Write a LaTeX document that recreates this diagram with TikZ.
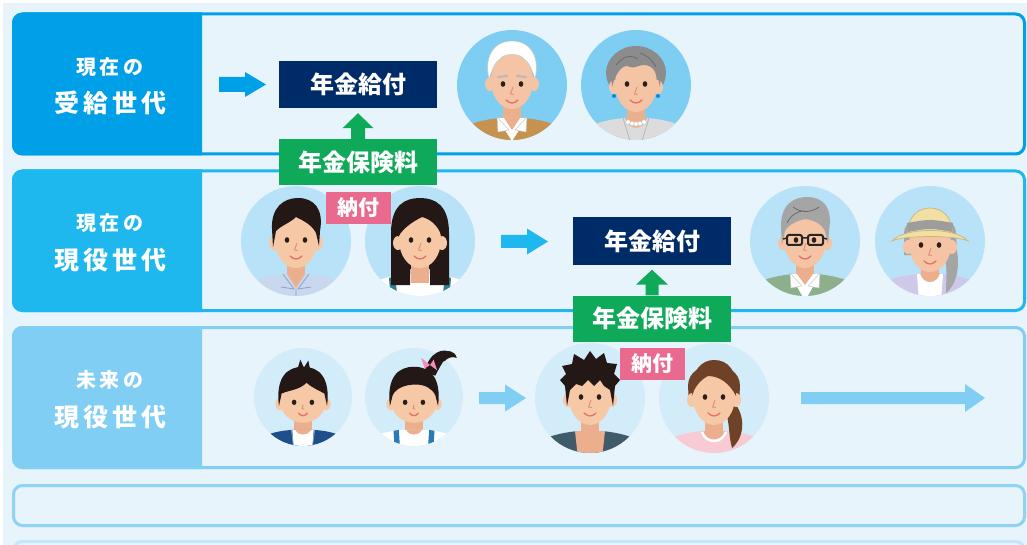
\documentclass[tikz,border=0pt]{standalone}
\usepackage{fontspec}
\setmainfont{Noto Sans CJK JP}
\newfontfamily\labfont{Noto Sans CJK JP}[LetterSpace=16]
\usetikzlibrary{calc}

% palette
\definecolor{pagebg}{HTML}{E7F4FC}
\definecolor{rowA}{HTML}{00A0E9}
\definecolor{rowB}{HTML}{1EB8EE}
\definecolor{rowC}{HTML}{80CEF3}
\definecolor{rowD}{HTML}{8ED3F5}
\definecolor{rowE}{HTML}{C4E7F9}
\definecolor{navyc}{HTML}{002B69}
\definecolor{greenc}{HTML}{0FA95A}
\definecolor{pinkc}{HTML}{E96A8E}
\definecolor{circA}{HTML}{7ECDF3}
\definecolor{circB}{HTML}{B8E2F8}
\definecolor{circC}{HTML}{D3ECF9}
\definecolor{skin}{HTML}{F7C8A6}
\definecolor{skinold}{HTML}{F4C4A5}
\definecolor{neckc}{HTML}{EBAF8E}
\definecolor{eyec}{HTML}{2A1E1A}
\definecolor{mouthc}{HTML}{E56F62}
\definecolor{nosec}{HTML}{DE8E78}
\definecolor{hairblack}{HTML}{231815}
\definecolor{hairgrey}{HTML}{8C8C8C}
\definecolor{hairgreydk}{HTML}{6A6A6A}
\definecolor{hairgreylt}{HTML}{A5A5A5}
\definecolor{hairbrown}{HTML}{6F4126}
\definecolor{sweater}{HTML}{C6934F}
\definecolor{jacketgrey}{HTML}{DCDCDC}
\definecolor{shirtblue}{HTML}{C9D7EF}
\definecolor{collarline}{HTML}{8EA2C7}
\definecolor{strapteal}{HTML}{2E7D95}
\definecolor{vestgreen}{HTML}{8DAF8B}
\definecolor{lavender}{HTML}{CEC8EA}
\definecolor{hatbeige}{HTML}{F2DFA4}
\definecolor{hatline}{HTML}{C9B57A}
\definecolor{bandgrey}{HTML}{9D9D9D}
\definecolor{navyjacket}{HTML}{1F4E8D}
\definecolor{strapblue}{HTML}{2B7AB6}
\definecolor{slate}{HTML}{3F5B69}
\definecolor{pinktop}{HTML}{F8CAD3}
\definecolor{ribbon}{HTML}{F28DBA}

% --- avatar building blocks (units: pt, y downwards, circle radius 55) ---
\newcommand\AvNeck[1]{\fill[#1] (-9,14) rectangle (9,42);}
\newcommand\AvTorso[1]{\fill[#1] (-62,75) -- (-58,50) .. controls (-50,40) and (-32,35) .. (-12,33) -- (12,33) .. controls (32,35) and (50,40) .. (58,50) -- (62,75) -- cycle;}
\newcommand\AvHead[2]{%
  \begin{scope}[shift={(0,#2)}]
    \fill[#1] (-22,2) ellipse (5 and 7);
    \fill[#1] (22,2) ellipse (5 and 7);
    \fill[#1] (0,-1) ellipse (21 and 28);
  \end{scope}}
\newcommand\AvFeat[1]{%
  \begin{scope}[shift={(0,#1)}]
    \fill[eyec] (-9,-1) ellipse (2.3 and 2.8);
    \fill[eyec] (9,-1) ellipse (2.3 and 2.8);
    \draw[nosec, line width=0.9pt, line cap=round, line join=round] (1,2) -- (-1.5,9) -- (1.5,9.5);
    \draw[mouthc, line width=1.3pt, line cap=round] (-6,15) .. controls (-2,19) and (2,19) .. (6,15);
  \end{scope}}
\newcommand\KidTorso[1]{\fill[#1] (-62,75) -- (-58,55) .. controls (-50,44) and (-32,38) .. (-12,37) -- (12,37) .. controls (32,38) and (50,44) .. (58,55) -- (62,75) -- cycle;}
\newcommand\KidHead[1]{%
  \fill[#1] (-26,8) ellipse (5 and 7);
  \fill[#1] (26,8) ellipse (5 and 7);
  \fill[#1] (0,4) ellipse (26 and 25);}
\newcommand\KidFeat{%
  \fill[eyec] (-10,6) ellipse (2.6 and 3);
  \fill[eyec] (10,6) ellipse (2.6 and 3);
  \draw[nosec, line width=0.9pt, line cap=round] (0,9) -- (-1,13) -- (1,13.5);
  \draw[mouthc, line width=1.3pt, line cap=round] (-5,18) .. controls (-2,22) and (2,22) .. (5,18);}

% --- block arrows ---
\newcommand\harrow[6]{% from, to, shaft half, head half, head length, colour
  \fill[#6] let \p1=(#1), \p2=(#2) in
    (\x1,\y1+#3pt) -- (\x2-#5pt,\y1+#3pt) -- (\x2-#5pt,\y1+#4pt) -- (\x2,\y1)
    -- (\x2-#5pt,\y1-#4pt) -- (\x2-#5pt,\y1-#3pt) -- (\x1,\y1-#3pt) -- cycle;}
\newcommand\varrow[6]{% from (bottom), to (tip), shaft half, head half, head length, colour
  \fill[#6] let \p1=(#1), \p2=(#2) in
    (\x1-#3pt,\y1) -- (\x1-#3pt,\y2-#5pt) -- (\x1-#4pt,\y2-#5pt) -- (\x1,\y2)
    -- (\x1+#4pt,\y2-#5pt) -- (\x1+#3pt,\y2-#5pt) -- (\x1+#3pt,\y1) -- cycle;}

\newcommand\genrow[3]{% top, bottom, colour
  \draw[#3, line width=3pt, fill=pagebg, rounded corners=9pt] (13.5,#1) rectangle (1024.5,#2);
  \begin{scope}
    \clip (0,0) rectangle (202,545);
    \fill[#3, rounded corners=10.5pt] (12,#1-1.5) rectangle (240,#2+1.5);
  \end{scope}}

\tikzset{
  avatar/.style={circle, inner sep=0pt, minimum size=110pt},
  kidavatar/.style={circle, inner sep=0pt, minimum size=98pt},
  lablarge/.style={text=white, inner sep=0pt, font=\labfont\bfseries\fontsize{25}{27}\selectfont},
  labsmall/.style={text=white, inner sep=0pt, font=\labfont\bfseries\fontsize{20}{22}\selectfont},
  givebox/.style={fill=navyc, text=white, minimum width=158pt, minimum height=47pt, inner sep=0pt, font=\bfseries\fontsize{24}{26}\selectfont},
  paybox/.style={fill=greenc, text=white, minimum width=158pt, minimum height=46pt, inner sep=0pt, font=\bfseries\fontsize{24}{26}\selectfont},
  tagbox/.style={fill=pinkc, text=white, minimum width=65pt, minimum height=32pt, inner sep=0pt, font=\bfseries\fontsize{21}{24}\selectfont},
  % ---------- people ----------
  pics/oldman/.style={code={
    \begin{scope}
      \clip (0,0) circle (55);
      \AvNeck{neckc}
      \AvTorso{sweater}
      \fill[white] (-15,33) -- (0,56) -- (15,33) -- cycle;
      \fill[neckc] (-8,33) -- (0,45) -- (8,33) -- cycle;
      \fill[white, draw=gray!45, line width=0.5pt] (-15,32) -- (-3,45) -- (-14,47) -- cycle;
      \fill[white, draw=gray!45, line width=0.5pt] (15,32) -- (3,45) -- (14,47) -- cycle;
      \AvHead{skinold}{-3}
      \fill[white, draw=gray!45, line width=0.6pt] (-23,-6) .. controls (-28,-26) and (-20,-44) .. (0,-44) .. controls (20,-44) and (28,-26) .. (23,-6) .. controls (20,-14) and (18,-22) .. (12,-26) .. controls (8,-32) and (-8,-32) .. (-12,-26) .. controls (-18,-22) and (-20,-14) .. (-23,-6) -- cycle;
      \draw[gray!55, line width=2.2pt, line cap=round] (-14,-8) -- (-5,-9) (5,-9) -- (14,-8);
      \AvFeat{0}
    \end{scope}}},
  pics/oldwoman/.style={code={
    \begin{scope}
      \clip (0,0) circle (55);
      \fill[hairgrey] (0,-12) ellipse (30 and 27);
      \AvNeck{neckc}
      \AvTorso{jacketgrey}
      \fill[neckc] (-11,33) .. controls (-8,46) and (8,46) .. (11,33) -- cycle;
      \draw[gray!60, line width=0.7pt] (-13,33) -- (-6,56) (13,33) -- (6,56);
      \foreach \t in {-8,-4,0,4,8} \fill[white, draw=gray!40, line width=0.3pt] (\t,{39-0.03*\t*\t}) circle (2.2);
      \AvHead{skinold}{0}
      \fill[hairgrey] (-24,2) .. controls (-27,-28) and (-14,-38) .. (0,-38) .. controls (14,-38) and (27,-28) .. (24,2) .. controls (22,-10) and (18,-20) .. (8,-20) .. controls (2,-20) and (-2,-16) .. (-6,-18) .. controls (-12,-22) and (-20,-14) .. (-24,2) -- cycle;
      \draw[hairgreydk, line width=0.8pt] (-20,-20) .. controls (-12,-30) and (-4,-30) .. (2,-26) (4,-32) .. controls (10,-30) and (16,-26) .. (20,-18);
      \fill[cyan!70!blue] (-22,11) circle (2) (22,11) circle (2);
      \AvFeat{0}
    \end{scope}}},
  pics/man/.style={code={
    \begin{scope}
      \clip (0,0) circle (55);
      \AvNeck{neckc}
      \AvTorso{shirtblue}
      \fill[neckc] (-9,33) -- (0,47) -- (9,33) -- cycle;
      \draw[collarline, line width=0.8pt, line join=round] (-13,33) -- (-2,48) -- (-15,46) (13,33) -- (2,48) -- (15,46) (0,48) -- (0,60);
      \AvHead{skin}{0}
      \fill[hairblack] (-23,6) -- (-24,-12) .. controls (-25,-34) and (-12,-43) .. (2,-43) .. controls (18,-43) and (28,-32) .. (24,-10) -- (23,5) -- (20,-8) .. controls (16,-16) and (8,-20) .. (0,-24) .. controls (-6,-18) and (-14,-16) .. (-20,-10) -- cycle;
      \AvFeat{0}
    \end{scope}}},
  pics/woman/.style={code={
    \begin{scope}
      \clip (0,0) circle (55);
      \AvTorso{white}
      \fill[strapteal] (-31,37) -- (-25,35) -- (-22,60) -- (-29,60) -- cycle;
      \fill[strapteal] (31,37) -- (25,35) -- (22,60) -- (29,60) -- cycle;
      \fill[hairblack] (-29,44) -- (-29,-8) .. controls (-29,-36) and (-15,-43) .. (0,-43) .. controls (15,-43) and (29,-36) .. (29,-8) -- (29,44) -- (10,44) -- (10,28) -- (-10,28) -- (-10,44) -- cycle;
      \AvNeck{neckc}
      \fill[neckc] (-9,32) .. controls (-6,42) and (6,42) .. (9,32) -- cycle;
      \AvHead{skin}{0}
      \fill[hairblack] (-22,-4) .. controls (-23,-28) and (-12,-36) .. (0,-36) .. controls (12,-36) and (23,-28) .. (22,-4) .. controls (18,-16) and (10,-22) .. (2,-24) .. controls (-6,-20) and (-16,-14) .. (-22,-4) -- cycle;
      \AvFeat{0}
    \end{scope}}},
  pics/greyman/.style={code={
    \begin{scope}
      \clip (0,0) circle (55);
      \AvNeck{neckc}
      \AvTorso{vestgreen}
      \fill[white] (-15,33) -- (0,60) -- (15,33) -- cycle;
      \fill[neckc] (-8,33) -- (0,44) -- (8,33) -- cycle;
      \fill[white, draw=gray!45, line width=0.5pt] (-15,32) -- (-3,45) -- (-14,47) -- cycle;
      \fill[white, draw=gray!45, line width=0.5pt] (15,32) -- (3,45) -- (14,47) -- cycle;
      \AvHead{skinold}{0}
      \fill[hairgreylt] (-23,4) -- (-24,-12) .. controls (-25,-36) and (-12,-44) .. (2,-44) .. controls (18,-44) and (28,-34) .. (24,-10) -- (23,3) -- (20,-10) .. controls (16,-18) and (8,-21) .. (0,-22) .. controls (-8,-20) and (-16,-17) .. (-20,-10) -- cycle;
      \draw[hairgreydk, line width=0.8pt] (-12,-34) .. controls (-4,-28) and (6,-28) .. (14,-34) (-18,-18) .. controls (-14,-26) and (-8,-30) .. (0,-30);
      \draw[black!85, line width=2pt, rounded corners=2pt] (-18,-6) rectangle (-3,4) (3,-6) rectangle (18,4);
      \draw[black!85, line width=1.5pt] (-3,-3) -- (3,-3) (-18,-3) -- (-22,-2) (18,-3) -- (22,-2);
      \AvFeat{0}
    \end{scope}}},
  pics/hatwoman/.style={code={
    \begin{scope}
      \clip (0,0) circle (55);
      \AvNeck{neckc}
      \AvTorso{lavender}
      \fill[white] (-13,33) -- (13,33) -- (11,60) -- (-11,60) -- cycle;
      \fill[neckc] (-10,32) .. controls (-7,44) and (7,44) .. (10,32) -- cycle;
      \fill[hairgreylt] (-26,14) -- (-26,-8) .. controls (-26,-30) and (26,-30) .. (26,-8) -- (27,10) .. controls (30,28) and (26,44) .. (16,52) .. controls (16,38) and (18,24) .. (14,16) -- cycle;
      \AvHead{skinold}{4}
      \fill[hatbeige, draw=hatline, line width=0.7pt] (-22,-6) .. controls (-25,-42) and (25,-42) .. (22,-6) -- cycle;
      \fill[bandgrey] (-23,-18) .. controls (0,-22) .. (23,-18) -- (22,-9) .. controls (0,-13) .. (-22,-9) -- cycle;
      \fill[hatbeige, draw=hatline, line width=0.7pt] (-38,0) .. controls (-26,-14) and (26,-14) .. (38,0) .. controls (26,-6) and (-26,-6) .. (-38,0) -- cycle;
      \AvFeat{5}
    \end{scope}}},
  pics/boy/.style={code={
    \begin{scope}
      \clip (0,0) circle (55);
      \fill[neckc] (-10,20) rectangle (10,45);
      \KidTorso{navyjacket}
      \fill[white] (-12,37) -- (12,37) -- (10,70) -- (-10,70) -- cycle;
      \fill[neckc] (-9,37) .. controls (-6,44) and (6,44) .. (9,37) -- cycle;
      \draw[white!45!navyjacket, line width=0.8pt] (-13,37) -- (-10,60) (13,37) -- (10,60);
      \KidHead{skin}
      \fill[hairblack] (-27,10) .. controls (-31,-22) and (-18,-34) .. (0,-34) .. controls (18,-34) and (31,-22) .. (27,10) -- (24,-4) .. controls (16,-8) and (8,-12) .. (4,-16) .. controls (-4,-8) and (-14,-8) .. (-24,-4) -- cycle;
      \fill[hairblack] (-6,-32) -- (-3,-42) -- (1,-33) -- (6,-41) -- (8,-31) -- cycle;
      \KidFeat
    \end{scope}}},
  pics/girl/.style={code={
    \begin{scope}
      \clip (0,0) circle (55);
      \fill[neckc] (-10,20) rectangle (10,45);
      \KidTorso{white}
      \fill[strapblue] (-23,38) -- (-17,37) -- (-15,70) -- (-21,70) -- cycle;
      \fill[strapblue] (23,38) -- (17,37) -- (15,70) -- (21,70) -- cycle;
      \fill[neckc] (-9,37) .. controls (-6,44) and (6,44) .. (9,37) -- cycle;
      \KidHead{skin}
      \fill[hairblack] (-27,10) .. controls (-31,-22) and (-18,-34) .. (0,-34) .. controls (18,-34) and (31,-22) .. (27,10) -- (24,-2) .. controls (20,-10) and (12,-14) .. (2,-14) .. controls (-10,-14) and (-20,-10) .. (-24,-2) -- cycle;
      \KidFeat
    \end{scope}
    \fill[hairblack] (12,-28) .. controls (16,-50) and (34,-58) .. (44,-48) .. controls (36,-46) and (32,-40) .. (24,-24) -- cycle;
    \fill[hairblack] (30,-48) .. controls (38,-54) and (46,-52) .. (48,-44) .. controls (42,-46) and (38,-44) .. (34,-40) -- cycle;
    \fill[ribbon] (18,-36) -- (8,-44) -- (12,-32) -- cycle;
    \fill[ribbon] (18,-36) -- (26,-30) -- (22,-42) -- cycle;}},
  pics/youngman/.style={code={
    \begin{scope}
      \clip (0,0) circle (55);
      \AvNeck{neckc}
      \AvTorso{slate}
      \fill[neckc] (-15,33) -- (15,33) -- (11,70) -- (-11,70) -- cycle;
      \AvHead{skin}{0}
      \fill[hairblack] (-23,8) -- (-25,-12) -- (-30,-18) -- (-24,-24) -- (-28,-32) -- (-18,-34) -- (-16,-44) -- (-6,-38) -- (0,-47) -- (6,-39) -- (14,-45) -- (17,-35) -- (27,-34) -- (24,-24) -- (30,-18) -- (25,-12) -- (23,8) -- (20,-8) -- (14,-12) -- (10,-18) -- (4,-12) -- (-2,-18) -- (-8,-12) -- (-14,-14) -- (-20,-8) -- cycle;
      \AvFeat{0}
    \end{scope}}},
  pics/brownwoman/.style={code={
    \begin{scope}
      \clip (0,0) circle (55);
      \fill[hairbrown] (-25,6) -- (-26,-12) .. controls (-26,-40) and (26,-40) .. (26,-12) -- (25,6) -- cycle;
      \AvNeck{neckc}
      \AvTorso{pinktop}
      \fill[neckc] (-11,33) .. controls (-8,44) and (8,44) .. (11,33) -- cycle;
      \draw[white, line width=2.5pt] (-12,34) .. controls (-8,46) and (8,46) .. (12,34);
      \fill[hairbrown] (16,0) .. controls (32,14) and (32,38) .. (18,50) .. controls (14,36) and (16,20) .. (10,12) -- cycle;
      \AvHead{skin}{0}
      \fill[hairbrown] (-22,-2) .. controls (-24,-28) and (-12,-38) .. (0,-38) .. controls (14,-38) and (24,-28) .. (22,-2) .. controls (16,-14) and (6,-22) .. (-6,-22) .. controls (-14,-18) and (-20,-10) .. (-22,-2) -- cycle;
      \AvFeat{0}
    \end{scope}}}
}

\begin{document}
\begin{tikzpicture}[x=1pt, y=-1pt]
  \useasboundingbox (0,0) rectangle (1027,545);
  \clip (0,0) rectangle (1027,545);

  % page
  \fill[pagebg] (0,0) rectangle (1027,545);
  \fill[white] (0,0) rectangle (1027,3);
  \fill[white] (0,0) rectangle (3,545);

  % generation rows
  \genrow{14}{154}{rowA}
  \genrow{171}{310.5}{rowB}
  \genrow{327.5}{467.5}{rowC}
  \draw[rowD, line width=3pt, fill=pagebg, rounded corners=9pt] (13.5,485.5) rectangle (1024.5,525.5);
  \draw[rowE, line width=3pt, fill=pagebg, rounded corners=9pt] (13.5,541.5) rectangle (1024.5,600);

  % row labels
  \node[labsmall] (lab1a) at (110,67) {現在の};
  \node[lablarge] (lab1b) at (110,103) {受給世代};
  \node[labsmall] (lab2a) at (110,223) {現在の};
  \node[lablarge] (lab2b) at (110,260) {現役世代};
  \node[labsmall] (lab3a) at (110,380) {未来の};
  \node[lablarge] (lab3b) at (110,417) {現役世代};

  % people
  \node[avatar, fill=circA] (av1) at (512,85) {};
  \pic at (av1) {oldman};
  \node[avatar, fill=circA] (av2) at (636,85) {};
  \pic at (av2) {oldwoman};
  \node[avatar, fill=circB] (av3) at (296,241) {};
  \pic at (av3) {man};
  \node[avatar, fill=circB] (av4) at (420,241) {};
  \pic at (av4) {woman};
  \node[avatar, fill=circB] (av5) at (805,241) {};
  \pic at (av5) {greyman};
  \node[avatar, fill=circB] (av6) at (930,241) {};
  \pic at (av6) {hatwoman};
  \node[kidavatar, fill=circC] (av7) at (303,397) {};
  \pic[scale=0.89] at (av7) {boy};
  \node[kidavatar, fill=circC] (av8) at (414,397) {};
  \pic[scale=0.89] at (av8) {girl};
  \node[avatar, fill=circC] (av9) at (590,398) {};
  \pic at (av9) {youngman};
  \node[avatar, fill=circC] (av10) at (714,398) {};
  \pic at (av10) {brownwoman};

  % pension boxes and payment tags
  \node[givebox] (give1) at (358,84.5) {年金給付};
  \node[paybox] (prem1) at (358,162) {年金保険料};
  \node[givebox] (give2) at (652,241) {年金給付};
  \node[paybox] (prem2) at (652,318.5) {年金保険料};
  \node[tagbox] (pay1) at (358,208) {納付};
  \node[tagbox] (pay2) at (652,363.5) {納付};

  % premiums flow up into benefits
  \varrow{prem1.north}{$(give1.south)+(0,5)$}{7}{15.5}{15}{greenc}
  \varrow{prem2.north}{$(give2.south)+(0,5)$}{6.5}{16}{15}{greenc}

  % generation flow arrows
  \coordinate (f1s) at (219,84.5);  \coordinate (f1e) at (266,84.5);
  \coordinate (f2s) at (501,241.5); \coordinate (f2e) at (548,241.5);
  \coordinate (f3s) at (479,398);   \coordinate (f3e) at (526,398);
  \coordinate (f4s) at (801,398);   \coordinate (f4e) at (985,398);
  \harrow{f1s}{f1e}{7.5}{12.5}{21}{rowA}
  \harrow{f2s}{f2e}{6.5}{13}{21}{rowB}
  \harrow{f3s}{f3e}{6}{13.5}{21}{rowC}
  \harrow{f4s}{f4e}{6}{14}{20}{rowC}
\end{tikzpicture}
\end{document}
